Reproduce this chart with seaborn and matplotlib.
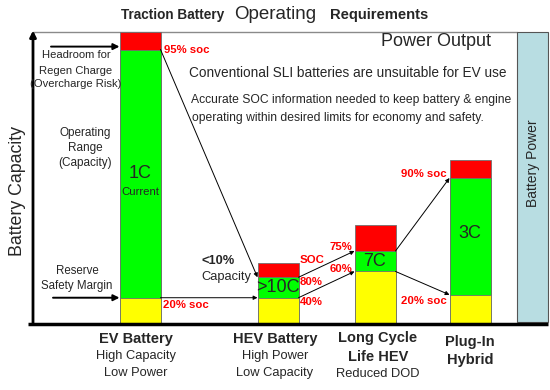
import numpy as np
import pandas as pd
import matplotlib
matplotlib.use("Agg")
import matplotlib.pyplot as plt
from matplotlib.patches import Rectangle
import seaborn as sns

# chart data (capacity units, EV battery = 100)
batteries = ["EV Battery", "HEV Battery", "Long Cycle\nLife HEV", "Plug-In\nHybrid"]
subtitles = ["High Capacity\nLow Power", "High Power\nLow Capacity", "Reduced DOD", ""]
x_pos = [140, 278, 375, 470]
reserve = [9, 9, 18, 10]      # yellow: reserve safety margin
operating = [85, 7, 7, 40]    # green: operating range
headroom = [6, 5, 9, 6]       # red: headroom for regen charge
rates = ["1C", ">10C", "7C", "3C"]

df = pd.DataFrame({"x": x_pos, "low": reserve, "op": operating, "head": headroom})
df["mid"] = df["low"] + df["op"]
df["top"] = df["mid"] + df["head"]

sns.set_style("white")
plt.rcParams["font.family"] = ["Liberation Sans", "DejaVu Sans"]

fig = plt.figure(figsize=(5.5, 3.9), dpi=100)
ax = fig.add_axes([33 / 550, 66 / 390, 515 / 550, 292 / 390])

bar_w = 41
wfrac = bar_w / np.min(np.diff(x_pos))
for col, c in [("top", "#ff0000"), ("mid", "#00ff00"), ("low", "#ffff00")]:
    sns.barplot(data=df, x="x", y=col, native_scale=True, orient="x", width=wfrac,
                color=c, saturation=1, edgecolor="#707070", linewidth=0.6,
                errorbar=None, ax=ax)

ax.set_xlim(33, 548)
ax.set_ylim(0, 100)
ax.set_axis_off()

# frame: axis arrow, baseline, top line, battery power box
ax.annotate("", xy=(33, 100.5), xytext=(33, 0), annotation_clip=False,
            arrowprops=dict(arrowstyle="-|>", color="black", lw=2, mutation_scale=9,
                            shrinkA=0, shrinkB=0))
ax.plot([28, 548], [0, 0], color="black", lw=2.5, clip_on=False, solid_capstyle="butt")
ax.plot([33, 517], [100, 100], color="#8a8a8a", lw=1, clip_on=False, zorder=0)
ax.add_patch(Rectangle((517, 0.6), 31, 99.4, facecolor="#b8dde2", edgecolor="#555555",
                       lw=0.8, clip_on=False))

# connector arrows between bars
left = [p - bar_w / 2 for p in x_pos]
right = [p + bar_w / 2 for p in x_pos]
arr = dict(arrowstyle="-|>", color="black", lw=0.7, mutation_scale=6, shrinkA=0, shrinkB=0)
for i in range(3):
    for lvl in ["mid", "low"]:
        ax.annotate("", xy=(left[i + 1], df[lvl][i + 1]), xytext=(right[i], df[lvl][i]),
                    arrowprops=arr)

big = dict(arrowstyle="-|>", color="black", lw=1.4, mutation_scale=9, shrinkA=0, shrinkB=0)
ax.annotate("", xy=(left[0], 95), xytext=(51, 95), arrowprops=big)
ax.annotate("", xy=(left[0], df["low"][0]), xytext=(53, df["low"][0]), arrowprops=big)

# text overlay in pixel coordinates
tx = fig.add_axes([0, 0, 1, 1])
tx.set_xlim(0, 550)
tx.set_ylim(390, 0)
tx.set_axis_off()

def t(x, y, s, size, **kw):
    kw.setdefault("ha", "center")
    kw.setdefault("va", "center")
    tx.text(x, y, s, fontsize=size, **kw)

t(172.5, 19, "Traction Battery", 9.8, weight="bold", va="baseline")
t(275.5, 19, "Operating", 13.5, va="baseline")
t(379.5, 19, "Requirements", 10.6, weight="bold", va="baseline")

t(491, 42, "Power Output", 13, ha="right")
t(189, 73, "Conventional SLI batteries are unsuitable for EV use", 9.8, ha="left")
t(191, 100, "Accurate SOC information needed to keep battery & engine", 8.75, ha="left")
t(192, 118, "operating within desired limits for economy and safety.", 8.75, ha="left")

for y, s in zip([55, 71, 84], ["Headroom for", "Regen Charge", "(Overcharge Risk)"]):
    t(76, y, s, 8.1)
for y, s in zip([133, 148, 163], ["Operating", "Range", "(Capacity)"]):
    t(85, y, s, 8.5)
for y, s in zip([271, 286], ["Reserve", "Safety Margin"]):
    t(77, y, s, 8.3)

t(18, 191, "Battery Capacity", 12.8, rotation=90)
t(533, 163, "Battery Power", 10, rotation=90)

# bar labels
for xc, yc, r in zip([140, 278, 374, 470], [173, 288, 262, 234], rates):
    t(xc, yc, r, 13)
t(140, 192, "Current", 8.2)

red = dict(color="#ff0000", weight="bold")
t(164, 50, "95% soc", 8.2, ha="left", **red)
t(163, 305, "20% soc", 8.2, ha="left", **red)
t(300, 260, "SOC", 8.2, ha="left", **red)
t(300, 282, "80%", 8.2, ha="left", **red)
t(300, 302, "40%", 8.2, ha="left", **red)
t(352, 247, "75%", 8.2, ha="right", **red)
t(352, 269, "60%", 8.2, ha="right", **red)
t(447, 174, "90% soc", 8.2, ha="right", **red)
t(447, 301, "20% soc", 8.2, ha="right", **red)

t(201, 261, "<10%", 9.3, ha="left", weight="bold")
t(201, 277, "Capacity", 9.3, ha="left")

# category labels
name_x = [136, 275, 378, 470]
name_y = [[339], [339], [338, 357], [342, 360]]
for xc, ys, name, sub in zip(name_x, name_y, batteries, subtitles):
    lines = name.split("\n")
    for y, s in zip(ys, lines):
        t(xc, y, s, 10.5, weight="bold")
    if sub:
        y0 = ys[-1] + 17
        for k, s in enumerate(sub.split("\n")):
            t(xc, y0 + 17 * k, s, 9.3)

fig.savefig("out.png", dpi=100)
